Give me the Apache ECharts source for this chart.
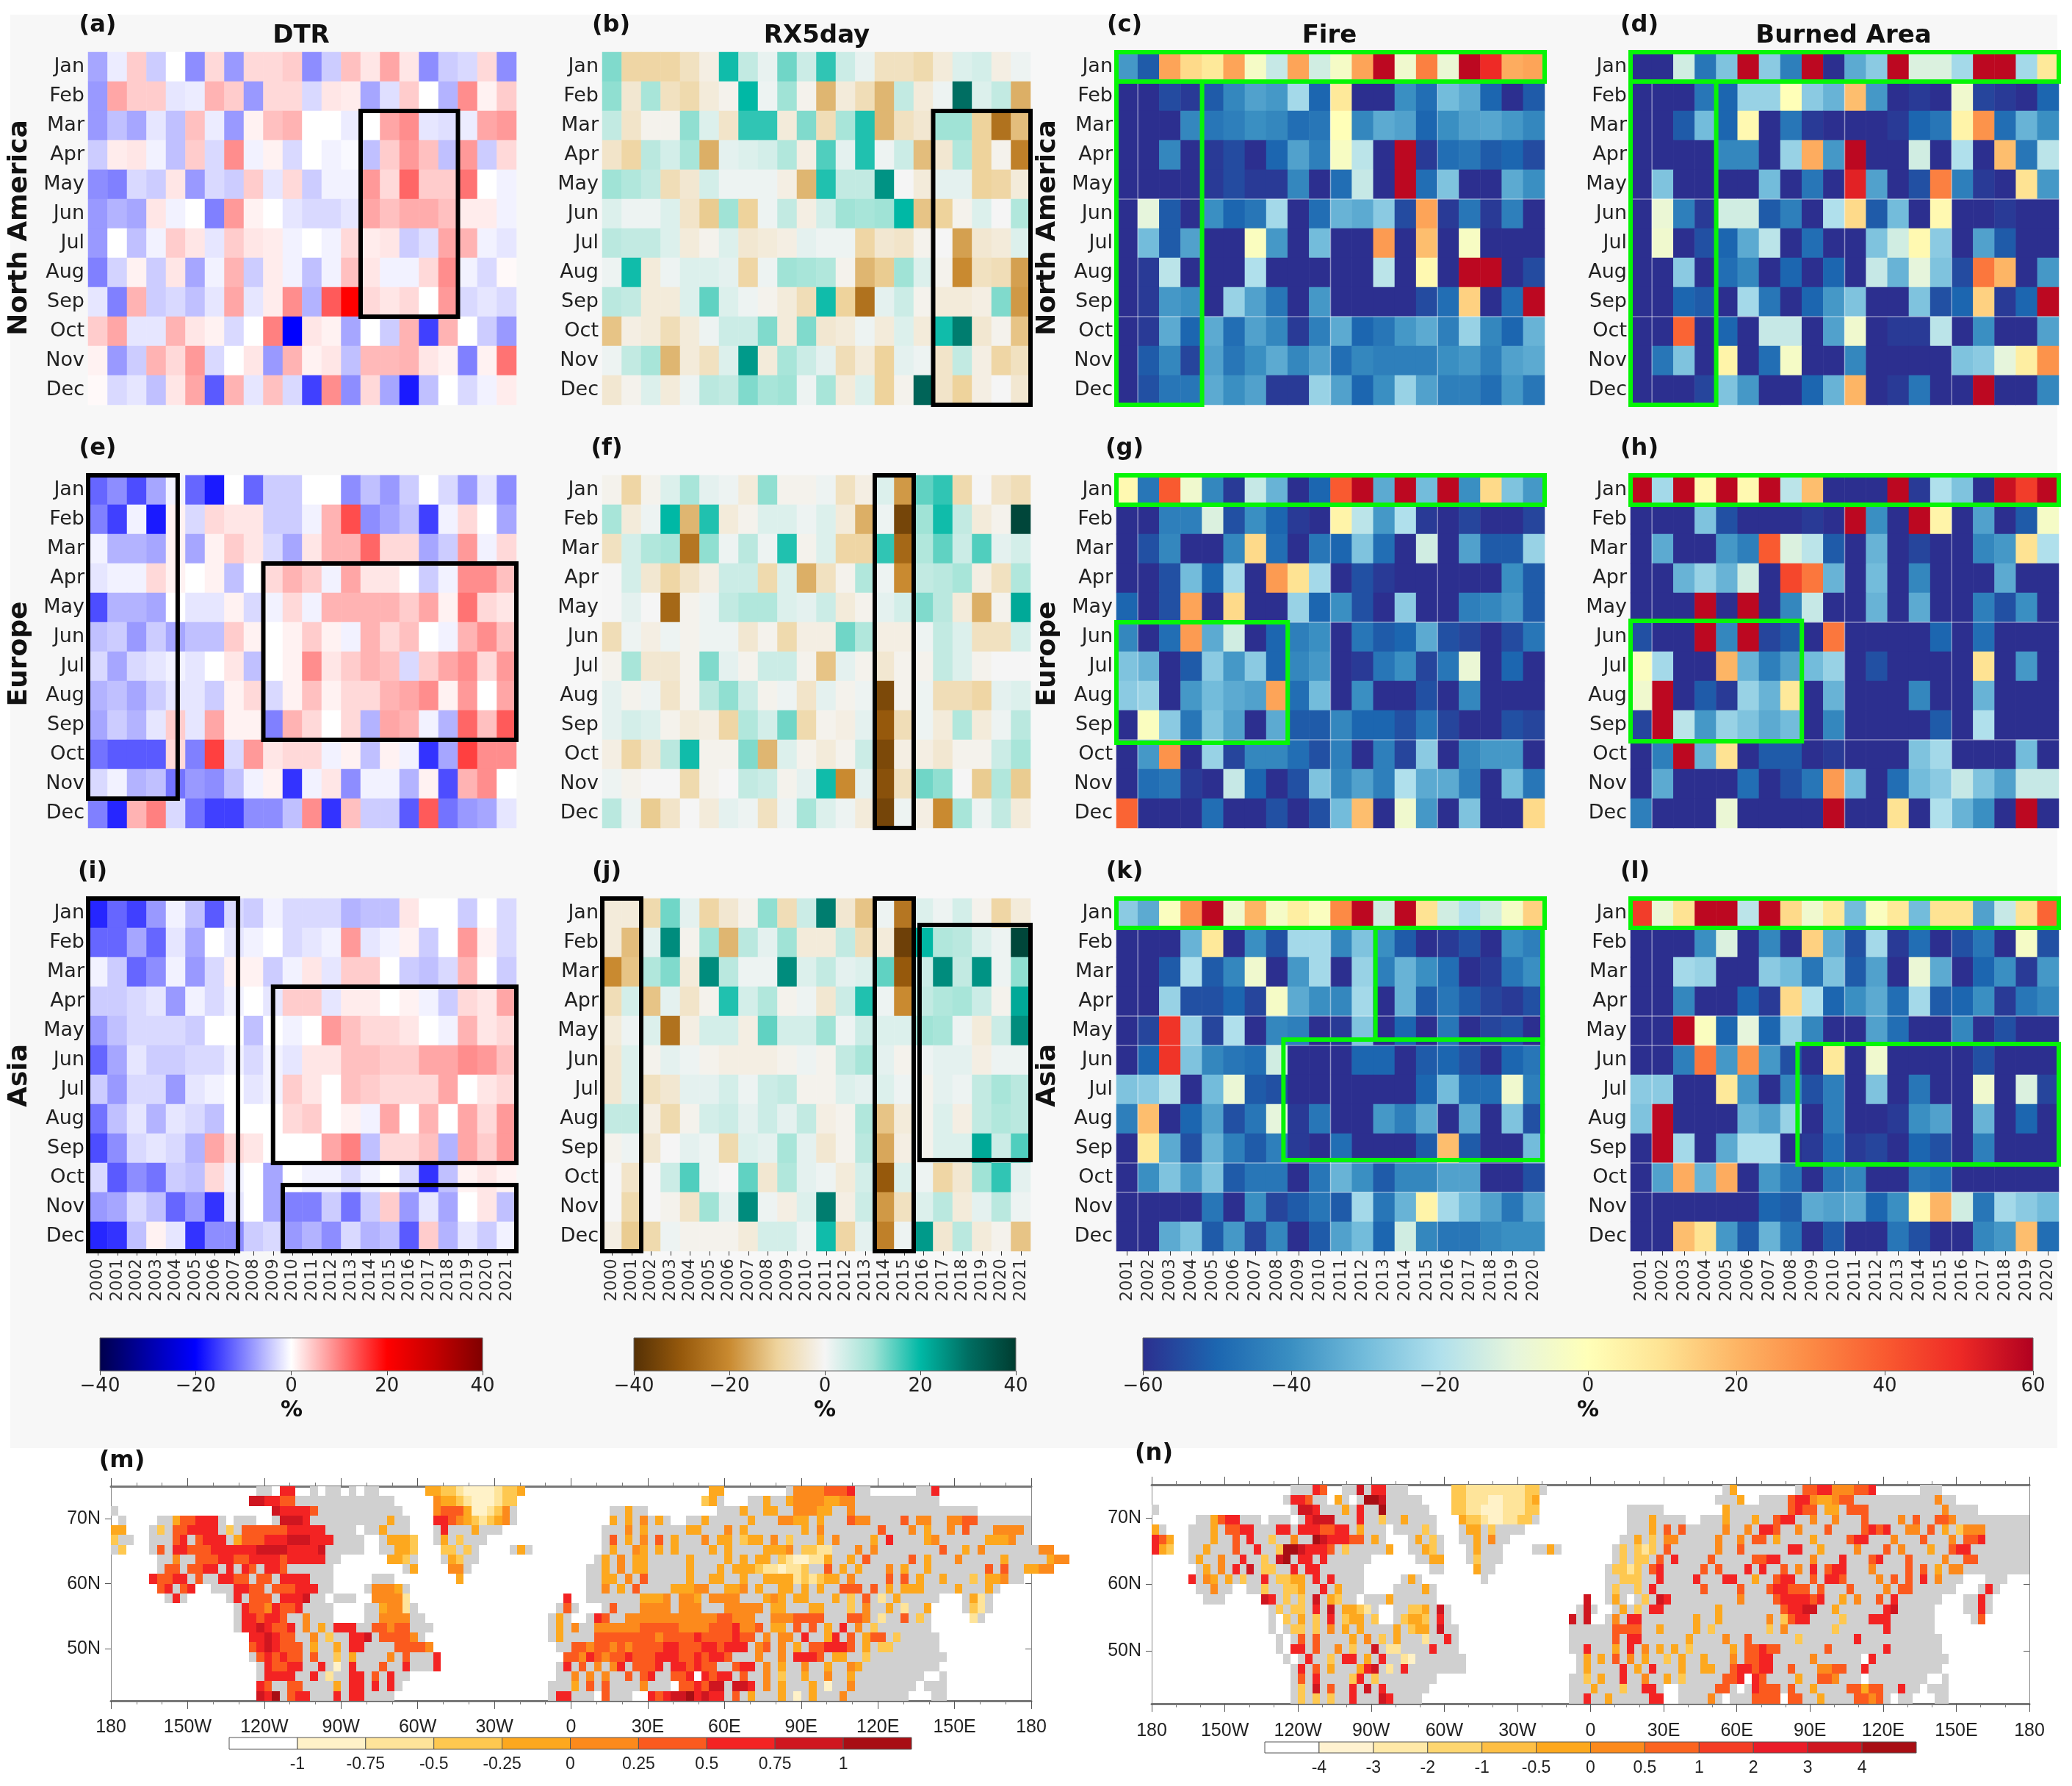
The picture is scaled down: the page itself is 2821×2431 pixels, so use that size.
<!DOCTYPE html>
<html>
<head>
<meta charset="utf-8">
<title>DTR, RX5day, Fire, Burned Area</title>
<style>html,body{margin:0;padding:0;background:#fff}#chart{width:2821px;height:2431px}</style>
<script src="https://cdn.jsdelivr.net/npm/echarts@6/dist/echarts.min.js"></script>
</head>
<body>
<div id="chart"></div>
<script>
var months = ['Jan','Feb','Mar','Apr','May','Jun','Jul','Aug','Sep','Oct','Nov','Dec'];
var yearsLong = ['2000','2001','2002','2003','2004','2005','2006','2007','2008','2009','2010','2011','2012','2013','2014','2015','2016','2017','2018','2019','2020','2021'];
var yearsShort = ['2001','2002','2003','2004','2005','2006','2007','2008','2009','2010','2011','2012','2013','2014','2015','2016','2017','2018','2019','2020'];

// anomalies in %, one row per month
var dtrNA = [
[-7,-1.5,4,-4,0,-9,3,-8,3,3,4,-9,-4,5,2,7,2,-9,-4,-3,3,-9],
[-8,7,4,4,-2,-1.5,6,4,-8,3,3,-3,2,1.5,-7,-2.5,4,0,-6,9,1,4],
[-8,-5,-7,-2,-5,5,-1.5,-8,1,5,6,0,0,-1.5,0,7,9,-2,-2.5,-1.5,7,8],
[-4,1.5,2,-1,-5,4,-3,9,-1,1,-3,0,-1,-0.5,-5,4,8,5,-5,8,-4,3],
[-9,-10,-3,-4,2,-8,-3,-4,4,-2,3,-4,-1,-1,8,3,12,4,4,11,0,-1],
[-8,-6,-7,2,-1,0,-10,8,1,0,-2,-3,-3,-2,7,5,6.5,6.5,5,1.5,1.5,-1],
[-8,0,-5,-1,4,2,-2,4,2,1.5,-1,0,-1,3,1.5,2,-4,-2.5,7,6,-1,-2],
[-10,-3.5,1,-4,2,-7,-1,6,-4,1.5,-1,-5,-1,5,2,-1,-1,3,9,-1,-3,0.5],
[-2,-10,6,-4,-3,-5,-2,7,-2,1.5,9,-6,13,20,3,2,3,0,8,-3,-2,-3],
[4,7,-2,-2,6,2,1,-3,0,10,-20,2,1,-7,0,-4,6,-15,6,0,-4,-8],
[1,-8,-4,6,3,8,-3,0,2,-8,6,1,2,-5,5.5,5.5,6,2,1,-10,1,11],
[0.5,-3,-2,-5,2,7,-13,6,-2,5,-3,-15,9,-9,3,-7,-18,-5,0,-3,-1,1.5]
];
var rxNA = [
[12,-9,-9,-9,-6,-2,19,6,1.5,13,5,17,5,1.5,-6,-6,-8,-3,3,4,-2,1],
[11,-4,9,-6,-8,-3,-1,20,1,10,-1,-14,-3,-7,-14,6,-3,1,30,3,6,-15],
[6,-5,-1,-1,11,3,-5,17,17,-3,12,-7,9,18,-14,-6,-4,10,10,-10,-25,-13],
[-5,-9,7,4,9,-15,2,3,4,8,-2,15,2,18,1,5,-13,-4,8,-10,-1,-22],
[10,8,6,-7,-4,4,1,1,1,-2,-14,18,6,6,25,0,-3,2,2,-10,-9,-3],
[3,1,1,3,-5,-11,10,-10,1,6,-2,4,10,9,10,20,-12,-10,-1,3,0,8],
[7,6,6,3,-3,-1,3,-4,-3,-2,2,1,1,-9,-4,-5,-1,0,-17,-4,-3,3],
[1,19,-3,1,3,3,2,-9,1,10,9,8,-1,-14,-11,10,3,-1,-20,-6,-7,-17],
[7,6,-3,-3,3,14,3,1,-1,-3,-7,19,-10,-25,2,5,-1,-3,-3,-2,12,-18],
[-12,-2,-3,-7,-3,1,5,5,12,-3,12,-4,-3,1,-3,3,-3,19,28,-4,-1,-12],
[1,6,9,-14,-3,-6,3,24,-3,9,5,2,-7,-3,-10,2,1,-5,6,-2,-9,-6],
[-4,-1,3,-3,1,7,6,12,9,10,1,9,-3,3,-10,-1,32,-5,-10,-2,0,-4]
];
var fireNA = [
[-38,-52,24,12,8,24,-4,-16,24,-14,-4,24,58,-6,32,-8,58,50,22,24],
[-60,-60,-55,-58,-52,-42,-36,-38,-22,-50,8,-60,-60,-40,-48,-30,-34,-50,-60,-52],
[-60,-60,-60,-42,-46,-44,-40,-42,-48,-46,0,-42,-34,-36,-50,-40,-36,-35,-38,-42],
[-60,-60,-42,-60,-58,-55,-60,-50,-36,-44,-3,-18,-60,58,-58,-48,-46,-52,-50,-55],
[-60,-60,-60,-60,-58,-55,-58,-58,-42,-60,-48,-16,-60,58,-48,-28,-60,-60,-34,-40],
[-60,-10,-52,-60,-40,-50,-46,-22,-60,-48,-32,-34,-26,-55,24,-58,-46,-58,-44,-60],
[-60,-30,-52,-36,-60,-60,-2,-38,-60,-30,-60,-60,26,-60,18,-60,-3,-60,-60,-60],
[-60,-58,-18,-60,-60,-60,-20,-60,-60,-60,-60,-60,-18,-60,2,-60,58,58,-60,-55],
[-60,-58,-38,-40,-60,-24,-36,-46,-60,-38,-60,-60,-60,-60,-55,-48,14,-60,-48,58],
[-60,-58,-34,-50,-34,-48,-36,-42,-58,-44,-34,-50,-46,-38,-34,-44,-24,-42,-50,-32],
[-60,-52,-42,-56,-36,-46,-40,-34,-42,-36,-48,-42,-44,-44,-44,-40,-38,-44,-36,-34],
[-60,-54,-46,-46,-34,-40,-36,-58,-58,-24,-36,-50,-40,-24,-36,-44,-44,-48,-38,-46]
];
var burnNA = [
[-60,-60,-14,-46,-28,58,-26,-44,58,-60,-34,-26,58,-12,-12,-22,58,58,-22,8],
[-60,-60,-60,-46,-50,-24,-24,0,-26,-32,18,-38,-60,-58,-60,-6,-56,-58,-60,-50],
[-60,-60,-52,-30,-50,2,-60,-46,-58,-60,-60,-60,-58,-50,-46,4,28,-48,-32,-40],
[-60,-60,-60,-60,-42,-42,-60,-24,22,-38,58,-60,-60,-14,-60,-20,-60,18,-46,-18],
[-60,-28,-60,-60,-60,-60,-30,-60,-46,-60,52,-36,-60,-54,32,-44,-58,-60,10,-38],
[-60,-8,-44,-58,-14,-14,-52,-44,-60,-20,12,-52,-30,-60,2,-60,-60,-58,-60,-60],
[-60,-6,-60,-54,-50,-34,-18,-60,-48,-60,-60,-28,-14,2,-26,-60,-36,-52,-60,-60],
[-60,-60,-26,-60,-48,-42,-60,-50,-60,-50,-60,-16,-32,-10,-28,-55,34,20,-60,-38],
[-60,-60,-50,-52,-60,-22,-46,-60,-50,-38,-28,-60,-60,-28,-54,-50,14,-58,-50,58],
[-60,-60,38,-60,-50,-60,-16,-16,-60,-36,-6,-60,-58,-58,-18,-60,-40,-60,-60,-36],
[-60,-46,-28,-60,4,-60,-48,-4,-60,-60,-42,-60,-60,-60,-60,-28,-26,-10,6,28],
[-60,-60,-60,-56,-28,-38,-60,-60,-50,-32,20,-60,-58,-46,-60,-60,58,-60,-60,-42]
];
var dtrEU = [
[-12,-9,-14,-7,-1,-12,-18,0,-12,-4,-4,0,0,-9,-5,-8,-4,0,-3,-8,-2,-9],
[-10,-15,-1,-18,1,-3,3,2,2,-4,-4,-1,6,14,-9,-7,-5,-15,-1,3,0,-7],
[-1,-6,-6,-7,1,-7,1,4,2,-3,-7,2,6,6,12,3,3,-7,-4,8,-1,3],
[-2,-1,-1,3,1,0,1,-5,0,3,6,4,-1,7,2,2,0,-4,-1,9,9,5],
[-14,-6,-6,-7,0,-2,-2,1,-3,-1,3,-1,6,6,6,6,4,7,1,11,3,2],
[-5,-4,-8,-4,-7,-5,-5,4,1,0,1,4,1,-1,6,3,5,0,-1,6,9,5],
[-3,-7,-3,-2,-1,-2,0,2,-5,0,1,9,2,4,6,5,-3,4,7,9,3,8],
[-6,-5,-7,-4,-2,-2,-4,1,3,-3,1,5,1,3,3,6,7,9,1,8,0,7],
[-7,-4,-6,-2,4,-2,7,1,1,-10,6,3,0,3,-6,7,6,-1,-6,12,5,13],
[-11,-13,-13,-13,3,-10,15,-3,8,2,3,3,-1,1,-5,1,-1,-16,-7,15,9,9],
[-3,-1,-6,-5,-11,-8,-9,-5,-1,1,-16,-1,2,-9,-1,-1,-6,1,-14,6,9,0],
[-10,-17,6,10,-3,-11,-15,-15,-9,-9,-5,9,-16,5,-4,-4,-13,13,-11,-8,-7,-2]
];
var rxEU = [
[-1,-9,-1,3,9,2,1,-3,11,-1,-1,1,-6,-2,3,-18,14,17,-8,0,-5,-7],
[9,-3,1,20,-14,18,-3,-1,3,3,1,3,-3,-15,1,-35,10,19,6,-3,-1,38],
[-6,4,8,9,-24,11,1,7,1,18,-1,3,-9,-9,17,-27,8,14,5,15,2,4],
[0,4,-4,-9,-5,-2,5,5,-8,3,-15,-6,-1,8,1,-20,6,7,9,-2,-6,8],
[0,2,0,-27,-1,1,6,8,8,3,2,5,-3,-1,2,4,12,7,-3,-15,-1,22],
[-7,1,-2,1,-1,1,1,-4,-1,-8,-2,-2,13,8,-2,-2,1,6,3,-6,-6,4],
[-1,9,-4,-4,-1,12,2,-1,5,5,-1,-12,2,-1,-4,-1,-1,6,3,-1,0,0],
[2,-1,1,-5,-1,7,11,5,-1,1,-5,2,-1,1,-34,-1,1,-7,-7,-9,2,3],
[2,4,3,-1,-3,-2,-9,8,4,13,-8,-1,-2,2,-30,-7,1,-3,8,-3,1,7],
[-2,-9,-4,7,19,-1,-1,12,-14,3,-1,-3,-1,5,-34,-2,-2,-4,-1,-1,5,9],
[1,-1,0,0,-8,-1,0,6,5,-1,2,19,-20,2,-32,-6,13,11,0,-11,8,-11],
[7,1,-11,-5,0,-3,2,1,-6,1,9,3,1,-3,-35,1,-2,-20,9,1,6,-3]
];
var fireEU = [
[2,-46,40,-6,-42,-58,-16,-32,-60,-50,40,58,-34,58,-30,58,-40,12,-28,-38],
[-60,-60,-44,-44,-12,-54,-40,-50,-58,-60,4,-18,-38,-20,-58,-60,-56,-60,-60,-56],
[-60,-54,-42,-60,-60,-42,12,-48,-60,-46,-50,-28,-48,-60,-14,-60,-36,-52,-52,-24],
[-60,-60,-54,-30,-50,-22,-60,26,10,-22,-60,-54,-58,-60,-60,-60,-60,-60,-40,-52],
[-50,-60,-54,24,-60,12,-60,-60,-24,-50,-40,-54,-60,-26,-60,-60,-44,-42,-38,-52],
[-42,-60,-48,26,-34,-14,-60,-50,-44,-40,-60,-46,-52,-50,-34,-54,-56,-60,-55,-46],
[-28,-32,-60,-52,-26,-38,-26,-50,-42,-38,-60,-58,-46,-40,-56,-46,-8,-60,-50,-60],
[-26,-24,-60,-38,-30,-34,-36,24,-48,-30,-60,-40,-60,-60,-54,-60,-42,-60,-60,-60],
[-60,-2,-26,-46,-28,-36,-60,-34,-52,-52,-42,-50,-50,-54,-46,-56,-60,-60,-54,-56],
[-60,-38,28,-60,-24,-56,-42,-42,-48,-54,-44,-60,-44,-56,-26,-60,-42,-38,-38,-60],
[-60,-48,-46,-58,-60,-16,-50,-60,-54,-28,-42,-36,-44,-20,-34,-34,-44,-60,-30,-46],
[38,-60,-60,-60,-48,-60,-60,-54,-60,-54,-30,18,-60,-6,-38,-60,-28,-60,-60,12]
];
var burnEU = [
[58,-22,58,2,58,2,58,-18,18,-60,-60,-60,58,-58,-20,-28,-60,56,46,58],
[-60,-60,-60,-28,-54,-60,-60,-60,-58,-60,58,-40,-60,58,4,-60,-36,-60,-52,-4],
[-60,-34,-60,-60,-38,-44,40,-12,-18,-52,-60,-32,-60,-56,-60,-60,-42,-38,10,-20],
[-60,-60,-32,-24,-32,-14,-60,44,34,-32,-60,-30,-60,-42,-60,-60,-60,-34,-60,-60],
[-60,-60,-60,58,-60,58,-60,-42,-16,-60,-60,-32,-60,-34,-60,-60,-44,-54,-40,-60],
[-54,-60,-60,58,-42,58,-56,-52,-60,34,-60,-60,-60,-60,-50,-60,-48,-60,-60,-60],
[-2,-22,-60,-60,20,-32,-44,-36,-30,-24,-60,-54,-60,-60,-60,-60,10,-60,-38,-60],
[-6,58,-60,-52,-58,-24,-32,8,-60,-32,-60,-60,-60,-42,-60,-60,-32,-60,-60,-60],
[-56,58,-18,-38,-24,-28,-34,-30,-60,-42,-60,-60,-60,-60,-52,-60,-20,-60,-60,-60],
[-60,-44,58,-32,10,-60,-52,-52,-60,-58,-60,-60,-60,-28,-22,-60,-60,-60,-30,-60],
[-60,-34,-60,-60,-60,-48,-60,-54,-46,26,-30,-60,-48,-30,-26,-16,-28,-36,-16,-16],
[-44,-60,-60,-60,-8,-60,-60,-60,-60,58,-60,-60,10,-60,-20,-32,-40,-60,58,-60]
];
var dtrAS = [
[-17,-12,-15,-8,-1,-5,-13,-3,-4,-1,-3,-3,-3,-6,-5,-5,2,0,0,-4,0,-3],
[-12,-12,-7,-12,-2,-7,0,-2,-1,0,-3,-2,-1,8,-2,-1,1,-4,0,8,1,-3],
[-1,-4,-12,-9,-1,-8,-3,1,1,-4,-1,2,-2,4,4,0,-4,-5,-3,6,0,-4],
[-4,-4,-3,-2,-8,-1,-3,-1,0,-2,4,4,-2,1.5,1.5,0,1,-1,-4,3,2,7],
[-8,-5,-3,-3,-3,-4,0,0,-5,0,-1,0,8,5,3,3,2,0,-1,6,2,3],
[-12,-7,-2,-4,-4,-3,-3,-1,-3,-1,-2,2,2,5,5,4,4,7,7,9,8,5],
[-4,-8,-3,-3,-8,-2,-1,0,-2,-1,4,2,0,5,4,3,3,3,7,0,2,3],
[-11,-5,-2,-6,-2,-3,-5,0,0,0,3,4,0,1,-1,7,0,6,0,7,3,8],
[-14,-9,-3,-2,-3,-6,7,3,2,0,0,0,7,10,-5,3,3,5,-6,7,4,8],
[-3,-13,-9,-11,-4,-5,3,-1,0,-7,0,-1,-1,-3,-1,0,-3,-16,-5,1,2,1],
[-8,-7,-3,-5,-12,-8,-16,-2,0,-7,-10,-10,-4,-11,-4,4,-8,-2,-7,0,2,-5],
[-17,-16,-5,1,-2,-16,-9,-9,-4,-3,-8,-6,-9,-3,-6,-5,-13,4,-6,-2,-4,-1]
];
var rxAS = [
[-3,-3,-8,13,2,-9,-4,-1,11,-7,5,28,-4,-12,1,-24,3,1,4,-1,-9,-3],
[-3,-13,2,26,-1,10,-14,7,2,10,-3,-3,6,-7,-3,-36,20,8,7,3,1,38],
[-20,-12,8,12,-3,26,7,1,1,26,3,6,2,3,14,-30,5,26,6,25,1,11],
[-7,4,-12,2,-5,-1,18,4,8,-1,1,-4,5,18,1,-20,6,8,9,5,-1,22],
[-3,1,3,-25,-2,4,4,-2,14,4,4,10,1,5,3,3,10,9,1,-3,5,26],
[-4,3,-1,2,1,-1,-2,-2,-2,-1,1,-1,6,9,2,-1,1,2,2,-2,1,1],
[-4,3,-6,-4,2,2,4,1,5,6,-1,-1,3,2,3,1,-1,2,1,6,9,7],
[6,6,-2,-8,-1,4,5,2,5,2,6,-2,-1,8,-12,-3,-1,3,-2,6,8,7],
[-1,1,-4,0,2,1,-8,3,2,9,2,-4,-1,7,-16,-2,-1,3,3,22,5,15],
[0,-5,0,5,15,1,0,14,-4,8,2,1,-3,4,-30,3,1,-9,-4,10,17,2],
[0,-8,0,-1,-5,10,2,26,1,-2,3,28,-2,5,-18,-6,3,7,-3,2,7,1],
[-2,-11,-8,1,-1,-1,-1,-3,4,4,1,19,-9,2,-22,1,24,-4,7,-3,-1,-12]
];
var fireAS = [
[-26,-34,-2,28,58,-6,20,-4,6,-2,30,58,-14,58,10,-14,-20,-14,-4,14],
[-60,-60,-60,-32,8,-60,-40,-54,-22,-22,-42,-28,-40,-52,-60,-58,-54,-60,-40,-44],
[-60,-60,-52,-20,-52,-42,-6,-60,-38,-22,-60,-24,-44,-32,-40,-48,-60,-58,-46,-40],
[-60,-60,-24,-54,-54,-50,-56,-4,-34,-40,-42,-22,-60,-32,-52,-46,-52,-56,-58,-54],
[-60,-56,48,-24,-56,-20,-60,-42,-44,-60,-58,-28,-60,-50,-60,-46,-60,-56,-54,-60],
[-60,-50,48,-28,-42,-46,-48,-14,-60,-60,-60,-50,-50,-60,-52,-50,-54,-60,-50,-46],
[-28,-26,-18,-60,-30,-8,-52,-54,-60,-60,-60,-60,-60,-60,-50,-30,-48,-48,-6,-44],
[-44,18,-60,-50,-36,-54,-46,-10,-58,-46,-60,-60,-38,-44,-34,-60,-34,-60,-28,-54],
[-60,8,-34,-54,-32,-44,-52,-44,-58,-60,-48,-60,-60,-60,-52,18,-52,-60,-60,-30],
[-60,-40,-28,-38,-28,-52,-46,-46,-60,-46,-32,-40,-52,-42,-42,-36,-36,-60,-60,-54],
[-60,-60,-60,-60,-46,-60,-40,-56,-52,-46,-52,-22,-46,-32,4,-22,-30,-36,-46,-34],
[-60,-60,-34,-28,-52,-38,-56,-42,-60,-52,-36,-30,-50,-14,-42,-46,-46,-42,-40,-40]
];
var burnAS = [
[46,-8,10,58,58,-18,58,12,-6,8,-30,-2,8,-30,10,10,-36,-16,10,38],
[-60,-60,-60,-40,-12,-60,-42,-60,14,-34,-54,-22,-58,-48,-60,-54,-46,-60,-4,-54],
[-60,-60,-22,-24,-60,-60,-26,-30,-46,-28,-52,-36,-60,-8,-34,-60,-50,-40,-58,-38],
[-60,-60,-42,-60,-60,-50,-58,12,-20,-50,-40,-34,-48,-22,-52,-50,-40,-58,-46,-42],
[-60,-60,58,-2,-50,-10,-50,-24,-42,-60,-60,-36,-48,-60,-60,-42,-60,-54,-60,-60],
[-60,-60,-44,34,-38,28,-38,-54,-60,8,-60,-6,-60,-60,-60,-60,-54,-60,-60,-60],
[-26,-26,-60,-60,8,-38,-60,-42,-54,-44,-60,-28,-60,-46,-60,-60,-6,-60,-12,-56],
[-28,58,-60,-60,-60,-32,-36,-24,-60,-44,-60,-60,-58,-40,-36,-60,-32,-60,-50,-60],
[-60,58,-22,-60,-34,-20,-20,-60,-58,-48,-58,-56,-60,-50,-54,-60,-44,-60,-60,-60],
[-60,-36,22,-32,22,-60,-38,-46,-60,-46,-42,-60,-60,-46,-48,-60,-60,-60,-60,-60],
[-60,-60,-60,-60,-60,-60,-50,-52,-34,-36,-34,-50,-40,2,20,-14,-46,-22,-26,-30],
[-60,-60,18,10,-38,-52,-32,-46,-60,-52,-60,-60,-46,-54,-60,-60,-42,-38,18,-48]
];

// highlighted boxes as [first col, first row, end col, end row] in cell units
var boxA = [[14,2,19,9]];
var boxB = [[17,2,22,12]];
var boxC = [[0,0,20,1],[0,1,4,12]];
var boxD = [[0,0,20,1],[0,1,4,12]];
var boxE = [[0,0,4.6,11],[9,3,22,9]];
var boxF = [[14,0,16,12]];
var boxG = [[0,0,20,1],[0,5,8,9.1]];
var boxH = [[0,0,20,1],[0,4.95,8,9.05]];
var boxI = [[0,0,7.7,12],[9.5,3,22,9],[10,9.75,22,12]];
var boxJ = [[0,0,2,12],[14,0,16,12],[16.3,0.9,22,8.9]];
var boxK = [[0,0,20,1],[12.1,1,19.9,4.8],[7.8,4.8,19.9,8.9]];
var boxL = [[0,0,20,1],[7.8,4.95,20,9.05]];

// faint seams the fire panels show between some rows and cols
var seamRowsNA = [5,9];
var seamRowsEU = [5,9];
var seamRowsAS = [4,5,9,10];
var seamCols = [1,10,15];

// land runs per map row, [first col, last col], same geography for both maps
var landRuns = [
[[19,21],[26,29],[31,34],[41,53],[78,79],[88,98],[105,107]],
[[18,25],[26,29],[30,36],[42,52],[77,79],[83,107]],
[[0,0],[21,29],[30,37],[42,52],[65,69],[79,112]],
[[6,14],[16,18],[21,38],[42,52],[65,72],[75,119]],
[[0,1],[5,31],[33,38],[42,50],[65,73],[74,119]],
[[0,2],[5,31],[35,39],[42,48],[64,119]],
[[0,1],[5,31],[35,39],[43,47],[52,54],[64,119]],
[[6,29],[36,39],[43,47],[63,119]],
[[6,28],[38,39],[44,46],[62,119]],
[[5,28],[34,36],[45,45],[62,110],[114,116]],
[[6,10],[13,28],[33,38],[62,109],[113,115]],
[[7,9],[15,27],[29,31],[34,38],[59,59],[62,107],[111,114]],
[[16,28],[33,39],[58,60],[63,106],[111,114]],
[[16,28],[33,40],[57,59],[62,106],[112,113]],
[[16,41],[57,60],[61,106]],
[[18,40],[57,59],[60,107]],
[[18,41],[58,59],[60,107]],
[[18,42],[59,108]],
[[19,42],[58,107]],
[[19,38],[58,105],[108,108]],
[[19,37],[57,104],[106,108]],
[[19,36],[57,103],[107,108]]
];

// map cells: 3 deg lon x 1.5 deg lat, rows from 75N down, [start col, codes]
// g = land without signal, . = white gap, digits = colour level
var mapM = [
[[19,'gg.'],[22,'77'],[26,'g.gg'],[31,'g.gg'],[41,'4433211112334'],[78,'44'],[89,'55556667'],[106,'g7']],
[[18,'887766gg'],[26,'gggg'],[31,'gggggg'],[42,'54432111233'],[77,'34g'],[84,'g4gg455554455ggggg'],[102,'gggggg']],
[[0,'g'],[21,'877776'],[27,'gg'],[31,'ggggggg'],[42,'5666411235'],[65,'gg4gg'],[81,'g4gg44gg55544gg5gggggggggggg']],
[[1,'g'],[6,'gg466777'],[22,'8887'],[28,'gg'],[31,'ggggg4gg'],[42,'7765432345'],[65,'4g4g5g4g'],[75,'gg4gg'],[80,'ggg4ggg5544g4ggg655gggg6g55g'],[108,'g5566ggggggg']],
[[0,'44'],[5,'g3g667777g3g66666677777gggg'],[34,'g4gg'],[42,'g7ggg4g'],[64,'ggg5g4ggggg'],[73,'gg44ggg5g4ggggggg4g5ggggggg6ggg5g4gg5g6ggg5555g']],
[[0,'3g'],[2,'g'],[6,'gg67g6777g4666777888777gggg'],[36,'4443'],[42,'g4g3gg'],[64,'g6g4g5g6g4'],[74,'ggg5g44g344g5g3ggg4g5gggg4g7gggg45gggggg4445gg']],
[[0,'g3'],[5,'g6g77666777777888877778g'],[31,'gg'],[37,'443'],[43,'33g3'],[52,'g4g'],[64,'g4gg54g4g4'],[74,'gggg4g4gggg4445g3322ggg5g5gggggggg6gg4g5ggggggg55']],
[[6,'gg5gg66677667777677777g'],[36,'443g'],[43,'g43g'],[63,'g4g5g44g'],[72,'ggg4gggg4g4g44g3211224gg4g6ggggg6g4ggg5ggggg4ggggg455']],
[[6,'g66g6677g7g76g776gg'],[38,'g4'],[44,'55g'],[63,'g4g5g44g'],[71,'gggg4ggg4g4443221223gg6g4g4ggg5g4gg4ggggggg6g6gg4455']],
[[5,'76677g6gg7766g66g7777gg'],[45,'4'],[63,'g44g5g6g'],[72,'ggg4gg44gg4gg4444232344g5gggg6g6g4gg4ggg3g445gg']],
[[6,'67g67'],[14,'gg7766g666777gg'],[34,'5554'],[63,'g5g4g6g'],[71,'gg44455gg445g4gg44g4g4gg666g6g4g444gggg4gg'],[113,'g4g']],
[[7,'g7'],[15,'g7g666g7778g'],[29,'ggg'],[34,'55552'],[59,'7'],[66,'ggg4445g554g5555ggg454g44ggg4g3g6g2g4gg'],[111,'g42g']],
[[16,'g76657667'],[34,'g4552g'],[58,'g6g'],[63,'.7'],[64,'g6ggg5555g555ggg55555g44ggg44ggg3g5gg4g2gg4'],[111,'g32g']],
[[16,'g776776gg5g'],[34,'g5555gg'],[57,'g4g'],[63,'76'],[65,'gg55555555555566555gg5556666ggg665g2gg6g3g'],[112,'2g']],
[[16,'g7787667g5g4g77'],[31,'7'],[34,'66566gg'],[57,'g4g5'],[62,'g5555556666655556667556g44g6g6g4g7g5g3ggg']],
[[18,'778766gg5g3gg778'],[34,'g66665g'],[57,'g4g'],[62,'g666666665666676666766g5g55g7gg47g6g466g3g']],
[[18,'6787666g4gg4g77'],[33,'gggg66665'],[60,'66566565666677666776777g56g5g4g667776g4g33g']],
[[18,'g676766g6gg3g4gg'],[34,'gg5g6gg'],[41,'g7'],[59,'6657656676667776676776ggg5gg5g7776g44gg3gg']],
[[19,'g76677gg7g1g7ggg6'],[36,'gg7gg'],[41,'g7'],[59,'7g6g5g57g6667g776766gg677g5g4gg5gg4gg54g']],
[[19,'g7777gg7g2gg77g6'],[35,'g7gg'],[59,'g5g5g5gg6g67gg667.7677g6gg5g3gg4gg5gg4g']],
[[19,'76gg66gggg4g77g7'],[35,'g7g'],[59,'g4g6g6gggg5ggg.667688g887g5g4ggg4g1gg5gg']],
[[19,'879g677ggg7g77g'],[57,'g77ggg.6ggg..7678897877g6g4ggg4g1g4ggg5g']]
];
var mapN = [
[[19,'ggg76'],[27,'g8g77'],[41,'332222222233'],[79,'4'],[88,'g6677555667'],[106,'g']],
[[19,'776gg.4g.g998g'],[41,'332221122234'],[79,'g4'],[84,'ggg677544566gggg'],[106,'g5gg']],
[[0,'g'],[19,'g887ggg4g7gg9gggg'],[41,'332211122233'],[78,'4g'],[83,'gggg6766g44g666gggggggggg5gg']],
[[7,'g4677gg'],[20,'g7888ggg7gg3gg4gg'],[42,'4332112233'],[66,'gg4g'],[76,'gg4ggg4gg677gg5gg5ggg6gggg5g6gg665gg']],
[[0,'4'],[6,'gg4g6677ggg77g7776677g4gg'],[36,'g3g'],[43,'44g3gg'],[66,'gg4g6g6g'],[75,'ggg5gg5g776gg5ggg6gggg6767gg55g6g4g3555']],
[[0,'76'],[2,'4'],[6,'gg4gg6g7gg3gg5gg9877766g4g'],[36,'4g3g'],[43,'g4g5gg'],[65,'g4g3g55g'],[75,'gg5gg5g66g4gggg4gggg677ggg5ggg6ggg5g667']],
[[0,'74'],[2,'3'],[5,'gg4ggg6gg7gg39987776g3g'],[31,'g4'],[36,'g43g'],[43,'g4g'],[53,'g4g'],[63,'g3g323g6'],[73,'gggg5gg6gggggg77gg4gggg5ggg6g5ggg4gg677']],
[[5,'g4gg5gg7gg3g89g77g7g'],[36,'gg44'],[43,'g3g'],[63,'g3g33g6g7g'],[73,'ggg6ggggg6677gggg5ggg7ggg67ggg6gggg5gg66']],
[[6,'g4g5g7g8g33gg7g77gg'],[38,'g'],[44,'4g'],[63,'3323g67g'],[72,'ggg6g6ggg7g7gg6g5g7g677ggg5gggg6g6g4g55']],
[[5,'7g54g4g3gg7g3344g7g7g'],[34,'g4g'],[63,'g333gg7g'],[72,'gg7ggg77gg4gg677gg6g776gggg5g6g6g7g5ggg']],
[[7,'g5g'],[14,'g3gg334gg7g4g'],[35,'gg4g'],[62,'g3gg3g7g'],[72,'ggg6gggg6ggg677666g6ggg6gggg5g66ggg'],[113,'g7g']],
[[7,'g'],[15,'87g3g3g8g43g'],[30,'gg4g'],[59,'8'],[62,'g4g.g3g87g'],[72,'gggggggg5gggg6777767gg4g5gg6g7g'],[112,'g7g']],
[[16,'g3g33g7g8g4432g'],[34,'g334g8g'],[59,'8'],[63,'g4g3g77gg'],[72,'ggggg4gggggggg67788gg4gggggg78g'],[112,'g7']],
[[16,'g.3g4g3g7g344g3'],[34,'3443g7g'],[57,'8g8'],[62,'g5g77g'],[72,'gg4gg4gggggg5g3677gggg3ggg777g'],[112,'g6']],
[[16,'g.g33g3g5g4g4g'],[32,'g4g344g8g'],[57,'g'],[60,'ggg6666gg4'],[72,'gg4g3ggggggg3g5gggggg3gggggg7g']],
[[17,'g.g6g6gggg4g5g3g4g'],[36,'g2gg7g'],[58,'g'],[60,'ggg6g77gggggg4gggg5gg6gggggg3ggggggg7g']],
[[17,'g.77g6gg5g3gg8g22gggg7'],[57,'gg7ggg4g7g5g4g4g3ggggg4g66766gggggg6ggggggg7']],
[[18,'g.g7gg3g77g4g7gg21gg'],[58,'g4g4g6g5g4gg3g4gg4ggg5g6677ggggg5gggggg.7']],
[[19,'g7g6g4ggg478g2g7g'],[58,'g4gggg7g4g7ggg4gg44gg677677gg6ggg5566gg7g']],
[[19,'g6g7gggg37g3gg'],[57,'gg3g4gg7gg5gg4g3ggggg667.76gggg4gg665ggg.']],
[[19,'g3g8g6gg7g8g7g'],[57,'ggg4ggg3gg77g..ggggg66g.g7666g6gg4gggg66466gg7gg']],
[[19,'g3g3g3gg7ggg87g'],[57,'gg7gg4ggggg77..gggg5g.ggg6666.66gg4gggg6656g.g']]
];
var mapLevels = ['#ffffff','#fff2c8','#fee49a','#fec850','#fda81e','#fc8a1c','#fb5a1e','#f32323','#cf1620','#a80e14','#d0d0d0'];

var barLabelsM = ['-1','-0.75','-0.5','-0.25','0','0.25','0.5','0.75','1'];
var barColorsM = ['#ffffff','#fff2c8','#fee49a','#fec850','#fda81e','#fc8a1c','#fb5a1e','#f32323','#cf1620','#a80e14'];
var barLabelsN = ['-4','-3','-2','-1','-0.5','0','0.5','1','2','3','4'];
var barColorsN = ['#ffffff','#fff2d0','#ffe9a8','#fed670','#febf45','#fda81e','#fc8a1c','#fb6420','#f43c24','#ea1c28','#cf1620','#a80e14'];

var dtrColors = ['#00004c','#0000a8','#0000ff','#8080ff','#ffffff','#ff8080','#ff0000','#c40000','#7f0000'];
var rxColors = ['#543005','#96590c','#c98a30','#eed39c','#f5f5f5','#a0e3d6','#00b8a5','#006e62','#003c30'];
var fireColors = ['#2c2f8f','#1c66b0','#3a8fc2','#73bcdb','#b0e0ec','#e6f5dc','#ffffb8','#fee393','#fdb565','#fc8a45','#f95a30','#ee2a26','#b00020'];

var colLeft = [120,820,1520,2220];
var rowTop = [71,647,1223];
var cellW = 583, cellH = 480;
var fontName = 'DejaVu Sans';

var panels = [
  {rows:dtrNA,boxes:boxA,color:'#000',c:0,r:0,years:yearsLong},
  {rows:rxNA,boxes:boxB,color:'#000',c:1,r:0,years:yearsLong},
  {rows:fireNA,boxes:boxC,color:'#06f506',c:2,r:0,years:yearsShort,seams:seamRowsNA},
  {rows:burnNA,boxes:boxD,color:'#06f506',c:3,r:0,years:yearsShort,seams:seamRowsNA},
  {rows:dtrEU,boxes:boxE,color:'#000',c:0,r:1,years:yearsLong},
  {rows:rxEU,boxes:boxF,color:'#000',c:1,r:1,years:yearsLong},
  {rows:fireEU,boxes:boxG,color:'#06f506',c:2,r:1,years:yearsShort,seams:seamRowsEU},
  {rows:burnEU,boxes:boxH,color:'#06f506',c:3,r:1,years:yearsShort,seams:seamRowsEU},
  {rows:dtrAS,boxes:boxI,color:'#000',c:0,r:2,years:yearsLong},
  {rows:rxAS,boxes:boxJ,color:'#000',c:1,r:2,years:yearsLong},
  {rows:fireAS,boxes:boxK,color:'#06f506',c:2,r:2,years:yearsShort,seams:seamRowsAS},
  {rows:burnAS,boxes:boxL,color:'#06f506',c:3,r:2,years:yearsShort,seams:seamRowsAS}
];

var grid = [], xAxis = [], yAxis = [], series = [], overlay = [];

function addGrid(g, x, y) {
  grid.push(g);
  var i = grid.length - 1;
  x.forEach(function (a) { a.gridIndex = i; xAxis.push(a); });
  y.forEach(function (a) { a.gridIndex = i; yAxis.push(a); });
  return {x: xAxis.length - x.length, y: yAxis.length - y.length};
}

// draws rect/line in cell units on a category grid
function cellShapes(ax, items, kind, style, z) {
  return {
    type:'custom', xAxisIndex:ax.x, yAxisIndex:ax.y, clip:false, z:z, silent:true,
    encode:{x:0, y:1},
    data:items.map(function (b) { return [0, 0, b[0], b[1], b[2], b[3]]; }),
    renderItem:function (params, api) {
      var c = api.coord([0, 0]), s = api.size([1, 1]);
      var x0 = c[0] - s[0] / 2, y0 = c[1] - s[1] / 2;
      var a1 = x0 + api.value(2) * s[0], b1 = y0 + api.value(3) * s[1];
      var a2 = x0 + api.value(4) * s[0], b2 = y0 + api.value(5) * s[1];
      if (kind == 'line') return {type:'line', shape:{x1:a1, y1:b1, x2:a2, y2:b2}, style:style};
      return {type:'rect', shape:{x:a1, y:b1, width:a2 - a1, height:b2 - b1}, style:style};
    }
  };
}

panels.forEach(function (p) {
  var ax = addGrid(
    {left: colLeft[p.c], top: rowTop[p.r], width: cellW, height: cellH},
    [{type:'category', data:p.years, position:'bottom',
      axisLine:{show:false},
      axisTick:{show:p.r == 2, length:6, alignWithLabel:true, lineStyle:{color:'#333'}},
      axisLabel:{show:p.r == 2, interval:0, rotate:90, margin:10, fontSize:23, fontFamily:fontName, color:'#333'},
      splitLine:{show:false}}],
    [{type:'category', data:months, inverse:true,
      axisLine:{show:false},
      axisTick:{length:6, alignWithLabel:true, lineStyle:{color:'#333'}},
      axisLabel:{interval:0, margin:5, fontSize:27, fontFamily:fontName, color:'#222'},
      splitLine:{show:false}}]
  );
  var cells = [];
  p.rows.forEach(function (row, j) {
    row.forEach(function (v, i) { cells.push([i, j, v]); });
  });
  series.push({type:'heatmap', xAxisIndex:ax.x, yAxisIndex:ax.y, data:cells, itemStyle:{borderWidth:0}, emphasis:{disabled:true}});
  if (p.seams) {
    var lines = p.seams.map(function (r) { return [0, r, 20, r]; })
      .concat(seamCols.map(function (k) { return [k, 1, k, 12]; }));
    overlay.push(cellShapes(ax, lines, 'line', {stroke:'rgba(255,255,255,0.45)', lineWidth:1.5}, 4));
  }
  overlay.push(cellShapes(ax, p.boxes, 'rect', {fill:'none', stroke:p.color, lineWidth:6}, 5));
});
series = series.concat(overlay);

// continuous colour bars
function addColorBar(left, width, lim, step, colors) {
  var ax = addGrid(
    {left:left, top:1821, width:width, height:45},
    [{type:'value', min:-lim, max:lim, interval:step,
      axisLine:{show:false}, splitLine:{show:false},
      axisTick:{length:6, lineStyle:{color:'#444'}},
      axisLabel:{margin:8, fontSize:26, fontFamily:fontName, color:'#222', hideOverlap:false,
        formatter:function (v) { return v < 0 ? '\u2212' + (-v) : '' + v; }}}],
    [{type:'value', min:0, max:1, show:false}]
  );
  var stops = colors.map(function (c, i) { return {offset:i / (colors.length - 1), color:c}; });
  series.push({type:'custom', xAxisIndex:ax.x, yAxisIndex:ax.y, silent:true, encode:{x:0, y:1},
    data:[[-lim, 1, lim, 0]],
    renderItem:function (params, api) {
      var a = api.coord([api.value(0), api.value(1)]), b = api.coord([api.value(2), api.value(3)]);
      return {type:'rect', shape:{x:a[0], y:a[1], width:b[0] - a[0], height:b[1] - a[1]},
        style:{fill:new echarts.graphic.LinearGradient(0, 0, 1, 0, stops), stroke:'#666', lineWidth:1}};
    }});
}
addColorBar(136, 521, 40, 20, dtrColors);
addColorBar(863, 520, 40, 20, rxColors);
addColorBar(1556, 1212, 60, 20, fireColors);

// world maps, lon/lat cells drawn through value axes
function addMap(left, top, width, height, rows, labelMargin) {
  var lonFmt = function (v) { return Math.abs(v) == 180 ? '180' : v == 0 ? '0' : v < 0 ? (-v) + 'W' : v + 'E'; };
  var lonAxis = function (pos, show) {
    return {type:'value', min:-180, max:180, interval:30, position:pos,
      axisLine:{onZero:false, lineStyle:{color:'#777', width:3}},
      axisTick:{length:11, lineStyle:{color:'#555'}},
      minorTick:{show:true, splitNumber:3, length:5, lineStyle:{color:'#777'}},
      splitLine:{show:false},
      axisLabel:{show:show, margin:labelMargin, fontSize:25, fontFamily:'Liberation Sans', color:'#222', formatter:lonFmt, showMinLabel:true, showMaxLabel:true}};
  };
  var latAxis = function (pos, show) {
    return {type:'value', min:42, max:75, position:pos,
      axisLine:{onZero:false, lineStyle:{color:'#888', width:1}},
      axisTick:{customValues:[50,60,70], length:8, inside:!show, lineStyle:{color:'#555'}},
      minorTick:{show:false}, splitLine:{show:false},
      axisLabel:{show:show, customValues:[50,60,70], margin:14, fontSize:25, fontFamily:'Liberation Sans', color:'#222',
        formatter:function (v) { return v + 'N'; }}};
  };
  var ax = addGrid({left:left, top:top, width:width, height:height},
    [lonAxis('bottom', true), lonAxis('top', false)],
    [latAxis('left', true), latAxis('right', false)]);
  var cells = [];
  rows.forEach(function (row, r) {
    // land first, then the coloured cells on top of it
    var lev = {};
    landRuns[r].forEach(function (run) {
      for (var k = run[0]; k <= run[1]; k++) lev[k] = 10;
    });
    row.forEach(function (seg) {
      seg[1].split('').forEach(function (ch, k) {
        lev[seg[0] + k] = ch == 'g' ? 10 : ch == '.' ? 0 : +ch;
      });
    });
    Object.keys(lev).forEach(function (k) {
      cells.push([-180 + 3 * (+k), 75 - 1.5 * r, lev[k]]);
    });
  });
  series.push({type:'custom', xAxisIndex:ax.x, yAxisIndex:ax.y, silent:true, encode:{x:0, y:1}, data:cells,
    renderItem:function (params, api) {
      var a = api.coord([api.value(0), api.value(1)]);
      var b = api.coord([api.value(0) + 3, api.value(1) - 1.5]);
      var x0 = Math.round(a[0]), y0 = Math.round(a[1]);
      return {type:'rect', shape:{x:x0, y:y0, width:Math.round(b[0]) - x0, height:Math.round(b[1]) - y0},
        style:{fill:mapLevels[api.value(2)]}};
    }});
}
addMap(151, 2023, 1253, 292, mapM, 24);
addMap(1568, 2021, 1195, 298, mapN, 25);

// stepped legends under the maps, labels sit on the box edges
function addStepBar(left, top, width, height, colors, labels) {
  var ax = addGrid({left:left, top:top, width:width, height:height},
    [{type:'value', min:0, max:colors.length, interval:1,
      axisLine:{show:false}, axisTick:{show:false}, splitLine:{show:false},
      axisLabel:{margin:9, fontSize:23, fontFamily:'Liberation Sans', color:'#222',
        formatter:function (v) { return labels[v - 1] || ''; }}}],
    [{type:'value', min:0, max:1, show:false}]);
  series.push({type:'custom', xAxisIndex:ax.x, yAxisIndex:ax.y, silent:true, encode:{x:0, y:1},
    data:colors.map(function (c, i) { return [i, 1, i + 1, 0]; }),
    renderItem:function (params, api) {
      var a = api.coord([api.value(0), api.value(1)]), b = api.coord([api.value(2), api.value(3)]);
      return {type:'rect', shape:{x:a[0], y:a[1], width:b[0] - a[0], height:b[1] - a[1]},
        style:{fill:colors[params.dataIndex], stroke:'#555', lineWidth:1}};
    }});
}
addStepBar(312, 2365, 929, 16, barColorsM, barLabelsM);
addStepBar(1722, 2371, 887, 15, barColorsN, barLabelsN);

// free text
function label(txt, x, y, size, rot, font) {
  return {type:'text', x:x, y:y, rotation:rot || 0, z:10, silent:true,
    style:{text:txt, font:'bold ' + size + 'px "' + (font || fontName) + '"', fill:'#111', textAlign:'center', textVerticalAlign:'middle'}};
}
var texts = [
  {type:'rect', z:-10, silent:true, shape:{x:14, y:20, width:2787, height:1951}, style:{fill:'#f7f7f7'}},
  label('DTR', 410, 49, 34), label('RX5day', 1112, 49, 34), label('Fire', 1810, 49, 34), label('Burned Area', 2510, 49, 34),
  label('North America', 27, 310, 36, Math.PI / 2), label('North America', 1427, 310, 36, Math.PI / 2),
  label('Europe', 27, 890, 36, Math.PI / 2), label('Europe', 1427, 890, 36, Math.PI / 2),
  label('Asia', 27, 1464, 36, Math.PI / 2), label('Asia', 1427, 1464, 36, Math.PI / 2),
  label('(a)', 133, 35, 32), label('(b)', 832, 35, 32), label('(c)', 1531, 35, 32), label('(d)', 2232, 35, 32),
  label('(e)', 133, 611, 32), label('(f)', 826, 611, 32), label('(g)', 1531, 611, 32), label('(h)', 2232, 611, 32),
  label('(i)', 126, 1187, 32), label('(j)', 826, 1187, 32), label('(k)', 1531, 1187, 32), label('(l)', 2226, 1187, 32),
  label('(m)', 166, 1989, 32), label('(n)', 1571, 1979, 32),
  label('%', 397, 1920, 30), label('%', 1123, 1920, 30), label('%', 2162, 1920, 30)
];

var chart = echarts.init(document.getElementById('chart'), null, {renderer:'canvas'});
chart.setOption({
  animation:false,
  backgroundColor:'#ffffff',
  tooltip:{show:false},
  graphic:{elements:texts},
  visualMap:[
    {show:false, min:-40, max:40, seriesIndex:[0,4,8], inRange:{color:dtrColors}},
    {show:false, min:-40, max:40, seriesIndex:[1,5,9], inRange:{color:rxColors}},
    {show:false, min:-60, max:60, seriesIndex:[2,3,6,7,10,11], inRange:{color:fireColors}}
  ],
  grid:grid, xAxis:xAxis, yAxis:yAxis, series:series
});
</script>
</body>
</html>
